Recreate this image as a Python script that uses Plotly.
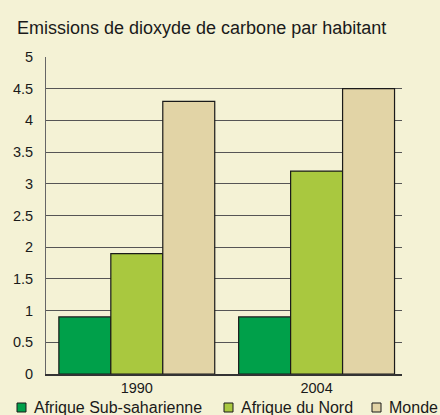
import plotly.graph_objects as go

years = ["1990", "2004"]
sub_saharan = [0.9, 0.9]
north_africa = [1.9, 3.2]
world = [4.3, 4.5]

series = [
    ("Afrique Sub-saharienne", sub_saharan, "#00A04A"),
    ("Afrique du Nord", north_africa, "#A9C83F"),
    ("Monde", world, "#E2D4A6"),
]

W, H = 440, 415
ML, MR, MT, MB = 46, 38, 57, 41
PW, PH = W - ML - MR, H - MT - MB


def px_x(px):
    return (px - ML) / PW


def px_y(py):
    return (H - MB - py) / PH


fig = go.Figure()
for name, vals, color in series:
    fig.add_trace(go.Bar(
        x=years, y=vals, name=name,
        marker=dict(color=color, line=dict(color="#1a1a1a", width=1.2)),
    ))

# hand-placed legend (squares + labels), the plotly legend is too wide here
legend_pos = [17, 224, 372]
for (name, vals, color), lx in zip(series, legend_pos):
    fig.add_shape(type="rect", xref="paper", yref="paper",
                  x0=px_x(lx), x1=px_x(lx + 9), y0=px_y(412), y1=px_y(403),
                  fillcolor=color, line=dict(color="#1a1a1a", width=1))
    fig.add_annotation(text=name, xref="paper", yref="paper",
                       x=px_x(lx + 16), y=px_y(407.5), xanchor="left", yanchor="middle",
                       showarrow=False, font=dict(size=16), borderpad=0)

bg = "#F4F2D5"
fig.update_layout(
    width=W, height=H,
    paper_bgcolor=bg, plot_bgcolor=bg,
    margin=dict(l=ML, r=MR, t=MT, b=MB, autoexpand=False),
    barmode="group", bargap=0.133, bargroupgap=0,
    font=dict(family="Liberation Sans", color="#1a1a1a", size=14),
    title=dict(text="Emissions de dioxyde de carbone par habitant",
               x=17 / W, xanchor="left", y=1 - 28 / H, yanchor="middle",
               font=dict(size=18)),
    showlegend=False,
)
fig.update_xaxes(range=[-0.505, 1.475], showline=True, linecolor="#333",
                 linewidth=1.5, ticks="", tickfont=dict(size=14.5), showgrid=False)
fig.update_yaxes(range=[0, 5], dtick=0.5, showline=True, linecolor="#666",
                 linewidth=1, showgrid=True, gridcolor="#555", gridwidth=1,
                 ticks="", ticklabelstandoff=9, zeroline=False,
                 tickfont=dict(size=14.5))

# page body has a default 8px margin; drop it so the figure sits at 0,0
fig.write_html("out.html", config={"displayModeBar": False},
               post_script="document.body.style.margin='0';")
